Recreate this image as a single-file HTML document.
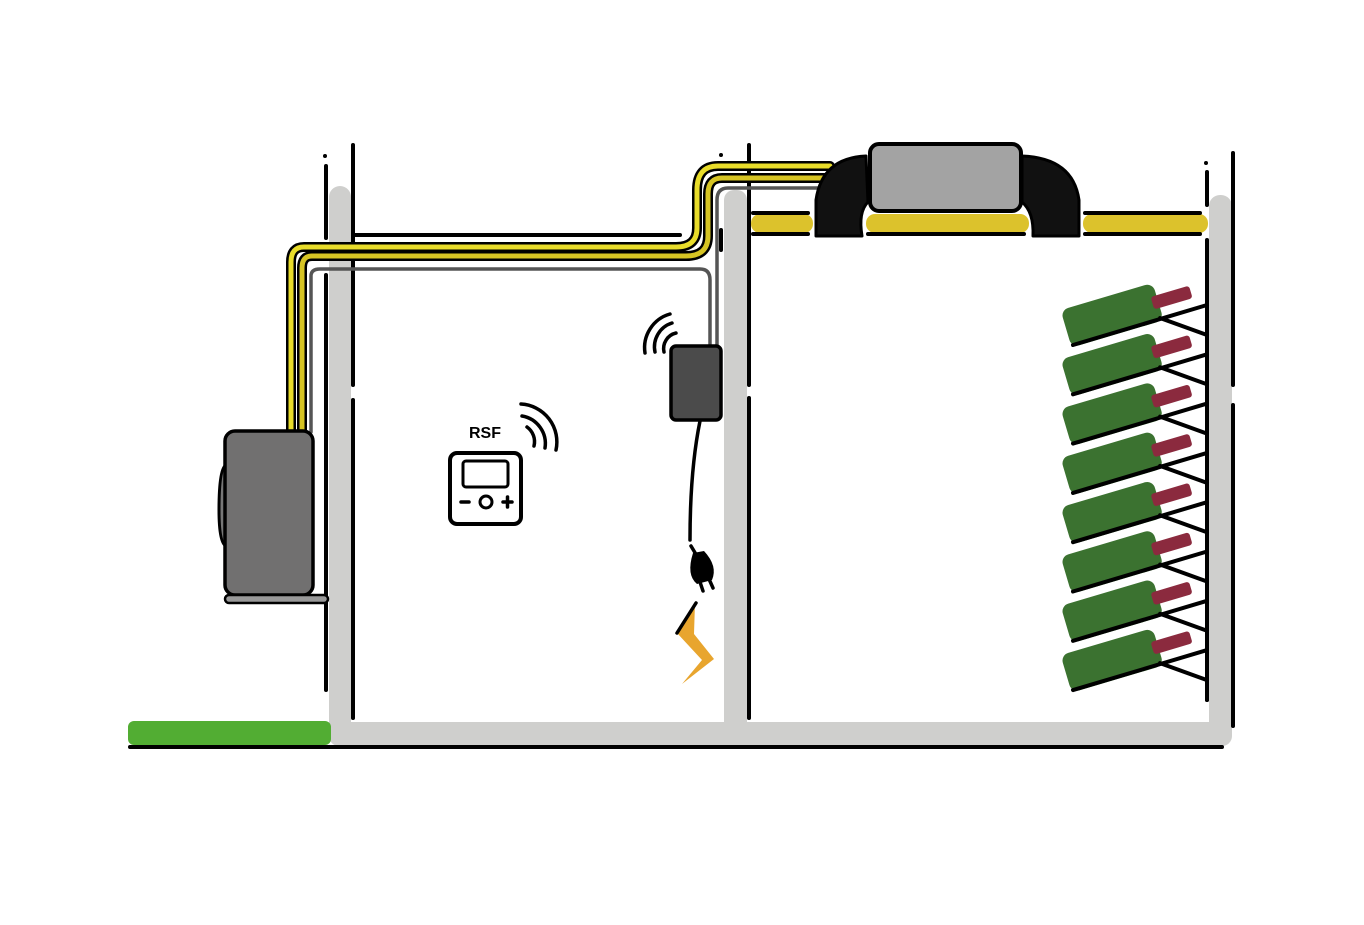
<!DOCTYPE html>
<html><head><meta charset="utf-8"><style>html,body{margin:0;padding:0;background:#fff}svg{display:block}</style></head>
<body>
<svg width="1364" height="925" viewBox="0 0 1364 925" xmlns="http://www.w3.org/2000/svg" stroke-linecap="round" stroke-linejoin="round">
<g fill="#cfcfcd">
<rect x="329" y="186" width="22" height="560" rx="11"/>
<rect x="724" y="190" width="23" height="545" rx="10"/>
<rect x="1209" y="195" width="23" height="550" rx="11"/>
<rect x="329" y="722" width="903" height="24" rx="10"/>
</g>
<rect x="128" y="721" width="203" height="24" rx="6" fill="#52ad33"/>
<line x1="130" y1="747" x2="1222" y2="747" stroke="#000" stroke-width="4"/>
<g stroke="#000" stroke-width="4" fill="none">
<line x1="353" y1="145" x2="353" y2="385"/><line x1="353" y1="400" x2="353" y2="718"/>
<line x1="326" y1="166" x2="326" y2="238"/><line x1="326" y1="275" x2="326" y2="690"/>
<line x1="749" y1="145" x2="749" y2="385"/><line x1="749" y1="398" x2="749" y2="718"/>
<line x1="721" y1="230" x2="721" y2="250"/>
<line x1="1233" y1="153" x2="1233" y2="385"/><line x1="1233" y1="405" x2="1233" y2="726"/>
<line x1="1207" y1="172" x2="1207" y2="205"/><line x1="1207" y1="240" x2="1207" y2="700"/>
<line x1="355" y1="235" x2="680" y2="235"/>
</g>
<g fill="#000"><circle cx="325" cy="156" r="2"/><circle cx="721" cy="155" r="2"/><circle cx="1206" cy="163" r="2"/></g>
<g fill="#dcc22c">
<rect x="751" y="214" width="62" height="19" rx="9"/>
<rect x="866" y="214" width="163" height="19" rx="9"/>
<rect x="1083" y="214" width="125" height="19" rx="9"/>
</g>
<g stroke="#000" stroke-width="4">
<line x1="753" y1="213" x2="808" y2="213"/><line x1="753" y1="234" x2="808" y2="234"/>
<line x1="868" y1="234" x2="1024" y2="234"/>
<line x1="1085" y1="213" x2="1200" y2="213"/><line x1="1085" y1="234" x2="1200" y2="234"/>
</g>
<g fill="none">
<path d="M830,166 L718,166 Q697,166 697,190 L697,228 Q697,247 676,247 L304,247 Q291,247 291,262 L291,432" stroke="#000" stroke-width="10"/>
<path d="M830,166 L718,166 Q697,166 697,190 L697,228 Q697,247 676,247 L304,247 Q291,247 291,262 L291,432" stroke="#e8dc2a" stroke-width="5"/>
<path d="M830,178 L722,178 Q708,178 708,194 L708,236 Q708,256 686,256 L312,256 Q302,256 302,268 L302,432" stroke="#000" stroke-width="10"/>
<path d="M830,178 L722,178 Q708,178 708,194 L708,236 Q708,256 686,256 L312,256 Q302,256 302,268 L302,432" stroke="#d6c424" stroke-width="5"/>
<path d="M830,188 L728,188 Q717,188 717,200 L717,346" stroke="#555" stroke-width="3.5"/>
<path d="M311,432 L311,276 Q311,269 320,269 L700,269 Q710,269 710,280 L710,346" stroke="#555" stroke-width="3.5"/>
</g>
<path d="M866,156 Q822,158 816,200 L816,236 L862,236 Q858,212 868,202 Z" fill="#111" stroke="#000" stroke-width="3"/>
<path d="M1022,156 Q1073,158 1079,200 L1079,236 L1033,236 Q1034,212 1022,202 Z" fill="#111" stroke="#000" stroke-width="3"/>
<rect x="870" y="144" width="151" height="67" rx="9" fill="#a3a3a3" stroke="#000" stroke-width="4"/>
<path d="M226,465 Q219,468 219,510 Q219,543 226,546" fill="#777" stroke="#000" stroke-width="3"/>
<rect x="225" y="431" width="88" height="164" rx="10" fill="#717070" stroke="#000" stroke-width="3.5"/>
<rect x="225" y="595" width="103" height="8" rx="4" fill="#999" stroke="#000" stroke-width="2.5"/>
<rect x="671" y="346" width="50" height="74" rx="5" fill="#4b4b4b" stroke="#000" stroke-width="3.5"/>
<g fill="none" stroke="#000" stroke-width="3.5">
<path d="M664,352 A16,16 0 0 1 676,333"/>
<path d="M655,352 A25,25 0 0 1 672,323"/>
<path d="M645,353 A35,35 0 0 1 670,314"/>
<path d="M700,421 Q690,470 690,540"/>
<path d="M691,546 L697,556"/>
</g>
<path d="M693,553 Q686,575 697,584 L712,580 Q718,566 704,551 Z" fill="#000"/>
<g stroke="#000" stroke-width="3.5"><line x1="700" y1="582" x2="703" y2="591"/><line x1="709" y1="579" x2="713" y2="588"/></g>
<path d="M695,603 L677,633 L702,660 L682,684 L714,659 L694,634 Z" fill="#e8a52e"/>
<line x1="696" y1="603" x2="677" y2="633" stroke="#000" stroke-width="3.5"/>
<text x="485" y="438" font-family="Liberation Sans, sans-serif" font-weight="bold" font-size="16" text-anchor="middle">RSF</text>
<g fill="none" stroke="#000" stroke-width="3.5">
<path d="M527,427 A18,18 0 0 1 534,446"/>
<path d="M522,416 A28,28 0 0 1 545,448"/>
<path d="M521,404 A38,38 0 0 1 556,450"/>
<rect x="450" y="453" width="71" height="71" rx="7" stroke-width="4"/>
<rect x="463" y="461" width="45" height="26" rx="3" stroke-width="3"/>
<circle cx="486" cy="502" r="6" stroke-width="3"/>
<line x1="461" y1="502" x2="469" y2="502"/>
<line x1="503" y1="502" x2="512" y2="502"/><line x1="507.5" y1="497" x2="507.5" y2="507"/>
</g>
<defs>
<g id="bt">
<g transform="translate(3,3) rotate(-16.5 1070 342)">
<rect x="1068" y="305" width="96" height="39" rx="8" fill="#3b7230"/>
<rect x="1158" y="318" width="40" height="13" rx="3" fill="#8b2a3e"/>
</g>
</g>
<g id="rk">
<line x1="1073" y1="345" x2="1207" y2="305" stroke="#000" stroke-width="4"/>
<line x1="1160" y1="318" x2="1207" y2="335" stroke="#000" stroke-width="4"/>
</g>
</defs>
<use href="#bt"/><use href="#rk"/>
<use href="#bt" y="49.3"/><use href="#rk" y="49.3"/>
<use href="#bt" y="98.6"/><use href="#rk" y="98.6"/>
<use href="#bt" y="147.9"/><use href="#rk" y="147.9"/>
<use href="#bt" y="197.2"/><use href="#rk" y="197.2"/>
<use href="#bt" y="246.5"/><use href="#rk" y="246.5"/>
<use href="#bt" y="295.8"/><use href="#rk" y="295.8"/>
<use href="#bt" y="345.1"/><use href="#rk" y="345.1"/>
<line x1="1207" y1="300" x2="1207" y2="700" stroke="#000" stroke-width="4"/>
</svg>
</body></html>
